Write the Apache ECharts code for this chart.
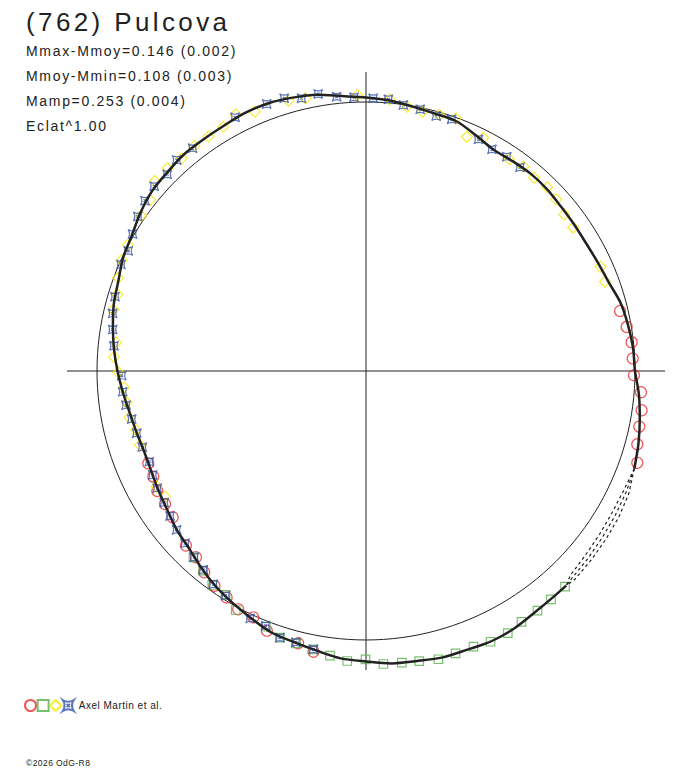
<!DOCTYPE html>
<html>
<head>
<meta charset="utf-8">
<script src="https://cdn.jsdelivr.net/npm/echarts@6/dist/echarts.min.js"></script>
<style>
html, body { margin: 0; padding: 0; background: #fff; }
#chart { width: 688px; height: 768px; }
/* the original plot uses widely spaced lettering */
#chart text { letter-spacing: 0.05em; }
#chart text[style*="26px"] { letter-spacing: 0.13em; }
#chart text[style*="14px"] { letter-spacing: 0.12em; }
</style>
</head>
<body>
<div id="chart"></div>
<script>
// radius units: the thin reference circle sits at refRadius
const refRadius = 269;
const axisRadius = 299;

const titleText = "(762) Pulcova";
const infoLines = [
    "Mmax-Mmoy=0.146 (0.002)",
    "Mmoy-Mmin=0.108 (0.003)",
    "Mamp=0.253 (0.004)",
    "Eclat^1.00"
];
const sourceName = "Axel Martin et al.";
const copyright = "\u00a92026 OdG-R8";

// model curve, angle in degrees counter-clockwise from +x
const curveAngle = [340, 345, 350, 355, 0, 5, 10, 15, 20, 25, 30, 35, 40, 45, 50, 55, 60, 65, 70, 75,
    80, 85, 90, 95, 100, 105, 110, 115, 120, 125, 130, 135, 140, 145, 150, 155, 160, 165, 170, 175,
    180, 185, 190, 195, 200, 205, 210, 215, 220, 225, 230, 235, 240, 245, 250, 255, 260, 265, 270, 275,
    280, 285, 290, 295, 300, 305, 310, 313];
const curveRadius = [285.5, 282, 278, 274, 269, 268, 266, 263.5, 258.5, 256, 254.5, 254.5, 255, 256.5, 257, 256, 255.5, 260, 265.5, 266.5,
    268.5, 271.5, 273.5, 276, 280.5, 283, 285, 285, 283.5, 283, 283, 281, 279.5, 275.5, 270.5, 268, 263.5, 261, 257, 253,
    248.5, 244, 240, 237.5, 236, 237, 239.5, 242.5, 247, 250.5, 256.5, 262.5, 267.5, 272.5, 278, 280.5, 284, 288.5, 290.5, 293.5,
    294.5, 296.5, 296.5, 298, 297, 294.5, 293.5, 293.5];

// broken tracks of the lower right quarter
const trackAngle = [340, 335, 330, 325, 320, 315, 313];
const trackInner = [285.5, 284, 284, 285, 286.5, 289, 293.5];
const trackMiddle = [285.5, 287, 288, 289, 290.5, 292, 293.5];
const trackOuter = [285.5, 290, 292, 293, 294, 295, 293.5];

// observation sets
const redAngle = [13.3, 9.6, 6.2, 2.7, 359.1, 355.6, 351.9, 348.5, 344.9, 341.3,
    203, 206.4, 209.9, 213.5, 217.1, 224.1, 227.6, 231.2, 234.8, 238.4, 241.8, 245.4, 249.1, 256, 259.4];
const redRadius = [261, 264.4, 267.2, 267, 268, 275.8, 278.4, 278.9, 281, 286.4,
    236.5, 237.5, 240.7, 241, 242.4, 250.8, 252.2, 258.2, 262.9, 266, 270.4, 270.9, 278, 280.6, 285.6];

const greenAngle = [227.2, 230.8, 234.3, 237.9, 241.4, 248.6, 252.1, 255.6, 259.3, 262.8, 266.3, 269.9,
    273.4, 277, 280.4, 284.1, 287.6, 291.3, 294.7, 298.4, 301.8, 305.6, 309, 312.7];
const greenRadius = [254, 257.6, 263.5, 264.3, 272.2, 274.7, 280.2, 281.2, 283.3, 286.9, 290.6, 288.3,
    293.5, 293.9, 294.9, 297.2, 296.2, 295.8, 298, 298.1, 295.1, 294.6, 293.9, 293.5];

const yellowAngle = [20.5, 24, 34.7, 38.3, 42.1, 45.4, 49, 52.4, 55.9, 63.3, 66.7, 70.4, 74, 77.7, 81.2, 85, 91.8,
    102.5, 106, 113.2, 116.9, 120.3, 123.9, 127.3, 130.9, 134.4, 138, 141.6, 145.4, 152.1, 155.6, 159.4,
    162.9, 166.4, 173.5, 176.8, 180.3, 183.9, 187.5, 191.1, 194.4, 198.1, 208.9, 212];
const yellowRadius = [255.1, 256.8, 252, 252.7, 256.1, 258.1, 256.1, 257.9, 255.6, 261.1, 255, 268.2, 266.3, 265.4, 267.4, 272.7, 276.1,
    279.3, 281.2, 282.1, 287.7, 282.9, 282.4, 283, 281.4, 283.8, 284, 275.5, 273.2, 269.6, 268.3, 264.7,
    260.3, 260, 251.6, 252.4, 247.7, 242.6, 241.4, 241.2, 237.4, 237.8, 239.1, 237];

const blueAngle = [52.9, 56.7, 60.4, 64.1, 71.2, 74.6, 78.3, 82, 85.3, 88.5, 92.5, 96.1, 99.8, 103.3, 106.7, 110.4,
    117.3, 127.9, 131.9, 135.3, 138.9, 142.4, 145.9, 149.6, 153.2, 156.5, 163.5, 167.2, 170.7, 174.3,
    181.1, 184.9, 188.1, 191.6, 195.2, 198.8, 202.7, 206, 209.3, 213.1, 216.5, 220, 223.6, 227.3, 230.7,
    234.4, 238, 244.9, 248.5, 252.1, 255.5, 259.3];
const blueRadius = [255.4, 256.4, 254.9, 257.5, 265.9, 264.4, 267.2, 268.6, 272.6, 272.8, 274, 275.9, 281.1, 280.2, 284.8, 284.9,
    285.5, 282.4, 283.5, 279.6, 281.1, 279, 275.6, 270.6, 266.4, 267.2, 261.8, 259.8, 256.7, 253.3,
    244.4, 244.2, 242.4, 239.2, 237.6, 236.3, 234.9, 237.3, 239.4, 240.9, 243.8, 247.2, 249.9, 253.4, 257,
    262.3, 264.9, 273.2, 273.7, 280.2, 280.2, 283.3];

const ink = "#222";
// square with pinched-in sides, points on the corners
const starPath = "path://M0,0 Q5,3.2 10,0 Q6.8,5 10,10 Q5,6.8 0,10 Q3.2,5 0,0 Z M3.5,3.5 L6.5,6.5 M6.5,3.5 L3.5,6.5";

function toPolar(radii, angles) {
    return radii.map((r, i) => [r, angles[i]]);
}

function markerSeries(name, symbol, size, color, radii, angles) {
    return {
        name: name,
        type: "scatter",
        coordinateSystem: "polar",
        symbol: symbol,
        symbolSize: size,
        itemStyle: {
            color: "rgba(0,0,0,0)",
            borderColor: color,
            borderWidth: 1.2
        },
        data: toPolar(radii, angles)
    };
}

function trackSeries(radii) {
    return {
        type: "line",
        coordinateSystem: "polar",
        showSymbol: false,
        silent: true,
        lineStyle: { color: ink, width: 1.2, type: [3, 3] },
        data: toPolar(radii, trackAngle)
    };
}

const chart = echarts.init(document.getElementById("chart"), null, { renderer: "svg" });

const setNames = ["Axel Martin et al. #1", "Axel Martin et al. #2", "Axel Martin et al. #3", "Axel Martin et al. #4"];

chart.setOption({
    animation: false,
    backgroundColor: "#fff",
    textStyle: { fontFamily: "Liberation Sans, Arial, sans-serif" },
    title: [
        {
            text: titleText,
            left: 26,
            top: 7,
            padding: 0,
            textStyle: { fontSize: 26, lineHeight: 30, fontWeight: "normal", color: ink }
        },
        {
            text: infoLines.join("\n"),
            left: 26,
            top: 38.5,
            padding: 0,
            textStyle: { fontSize: 14, lineHeight: 25, fontWeight: "normal", color: ink }
        },
        {
            text: copyright,
            left: 26,
            top: 757.5,
            padding: 0,
            textStyle: { fontSize: 8.5, lineHeight: 10, fontWeight: "normal", color: ink }
        }
    ],
    legend: {
        left: 24,
        top: 699,
        padding: 0,
        itemWidth: 11,
        itemHeight: 11,
        itemGap: -0.4,
        data: setNames,
        formatter: name => (name === setNames[3] ? sourceName : ""),
        textStyle: { fontSize: 10, color: ink }
    },
    polar: {
        center: [366, 371],
        radius: axisRadius
    },
    angleAxis: {
        type: "value",
        min: 0,
        max: 360,
        interval: 90,
        startAngle: 0,
        clockwise: false,
        axisLine: { show: false },
        axisTick: { show: false },
        axisLabel: { show: false },
        splitLine: { show: true, lineStyle: { color: ink, width: 1 } }
    },
    radiusAxis: {
        type: "value",
        min: 0,
        max: axisRadius,
        interval: refRadius,
        axisLine: { show: false },
        axisTick: { show: false },
        axisLabel: { show: false },
        splitLine: {
            show: true,
            lineStyle: { color: ["rgba(0,0,0,0)", ink, "rgba(0,0,0,0)"], width: 1 }
        }
    },
    series: [
        {
            type: "line",
            coordinateSystem: "polar",
            showSymbol: false,
            silent: true,
            smooth: 0.3,
            lineStyle: { color: ink, width: 2.5 },
            data: toPolar(curveRadius, curveAngle)
        },
        trackSeries(trackInner),
        trackSeries(trackMiddle),
        trackSeries(trackOuter),
        markerSeries(setNames[0], "circle", 11, "#ec2a2e", redRadius, redAngle),
        markerSeries(setNames[1], "rect", 8.5, "#56b048", greenRadius, greenAngle),
        markerSeries(setNames[2], "diamond", 11, "#f8e800", yellowRadius, yellowAngle),
        markerSeries(setNames[3], starPath, 9, "#3552a8", blueRadius, blueAngle)
    ]
});
</script>
</body>
</html>
